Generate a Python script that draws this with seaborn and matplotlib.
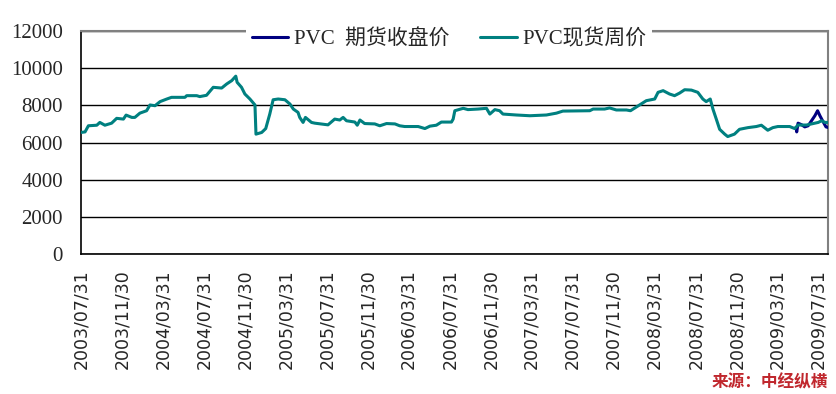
import pandas as pd
import seaborn as sns
import matplotlib
matplotlib.use('Agg')
from matplotlib import pyplot as plt
import matplotlib.dates as mdates

# PVC 现货周价
spot_dates = ['2003-07-31', '2003-08-12', '2003-08-22', '2003-09-16', '2003-09-25', '2003-10-10',
              '2003-10-30', '2003-11-14', '2003-12-04', '2003-12-12', '2003-12-29', '2004-01-07',
              '2004-01-22', '2004-02-11', '2004-02-21', '2004-03-07', '2004-03-22', '2004-04-11',
              '2004-04-25', '2004-06-04', '2004-06-09', '2004-07-09', '2004-07-18', '2004-08-07',
              '2004-08-27', '2004-09-21', '2004-10-06', '2004-10-21', '2004-11-02', '2004-11-06',
              '2004-11-19', '2004-11-29', '2004-12-14', '2004-12-29', '2005-01-01', '2005-01-18',
              '2005-01-30', '2005-02-11', '2005-02-21', '2005-03-08', '2005-03-28', '2005-04-12',
              '2005-04-22', '2005-05-06', '2005-05-11', '2005-05-21', '2005-05-28', '2005-06-15',
              '2005-06-25', '2005-08-03', '2005-08-23', '2005-09-07', '2005-09-17', '2005-09-27',
              '2005-10-22', '2005-10-29', '2005-11-06', '2005-11-20', '2005-12-20', '2006-01-04',
              '2006-01-24', '2006-02-18', '2006-03-04', '2006-03-19', '2006-04-28', '2006-05-18',
              '2006-06-02', '2006-06-21', '2006-07-06', '2006-08-05', '2006-08-10', '2006-08-15',
              '2006-09-09', '2006-09-23', '2006-10-23', '2006-11-17', '2006-11-27', '2006-12-12',
              '2006-12-26', '2007-01-05', '2007-02-14', '2007-03-26', '2007-05-14', '2007-06-13',
              '2007-07-02', '2007-09-20', '2007-09-30', '2007-11-03', '2007-11-18', '2007-12-08',
              '2008-01-07', '2008-01-19', '2008-02-15', '2008-03-06', '2008-03-31', '2008-04-10',
              '2008-04-25', '2008-05-14', '2008-05-29', '2008-06-13', '2008-06-28', '2008-07-18',
              '2008-08-06', '2008-08-21', '2008-08-31', '2008-09-12', '2008-09-20', '2008-09-30',
              '2008-10-10', '2008-10-25', '2008-11-03', '2008-11-23', '2008-12-08', '2009-01-02',
              '2009-01-27', '2009-02-11', '2009-03-02', '2009-03-17', '2009-04-01', '2009-05-06',
              '2009-05-21', '2009-05-31', '2009-06-25', '2009-07-30', '2009-08-09', '2009-08-19',
              '2009-08-28']
spot_price = [6540, 6570, 6900, 6930, 7080, 6930,
              7040, 7300, 7260, 7475, 7350, 7350,
              7580, 7710, 8020, 7980, 8200, 8340,
              8430, 8430, 8520, 8520, 8470, 8540,
              8970, 8930, 9150, 9330, 9570, 9240,
              8970, 8610, 8340, 8020, 6450, 6540,
              6750, 7530, 8300, 8340, 8300, 8070,
              7800, 7620, 7350, 7080, 7350, 7080,
              7040, 6950, 7260, 7210, 7350, 7170,
              7100, 6930, 7210, 7020, 7000, 6900,
              7020, 7000, 6900, 6860, 6860, 6750,
              6880, 6930, 7100, 7100, 7260, 7710,
              7840, 7770, 7800, 7840, 7530, 7770,
              7710, 7530, 7480, 7440, 7480, 7580,
              7690, 7710, 7800, 7800, 7860, 7750,
              7750, 7710, 8020, 8250, 8340, 8700,
              8790, 8610, 8520, 8660, 8840, 8820,
              8700, 8340, 8200, 8340, 7800, 7260,
              6710, 6450, 6320, 6450, 6710, 6800,
              6860, 6930, 6660, 6800, 6860, 6860,
              6750, 6940, 6940, 7080, 7170, 7080,
              7080]

# PVC 期货收盘价
fut_dates = ['2009-05-25', '2009-05-27', '2009-05-31', '2009-06-10', '2009-06-20', '2009-06-30',
             '2009-07-10', '2009-07-20', '2009-07-28', '2009-08-04', '2009-08-14', '2009-08-22',
             '2009-08-28']
fut_price = [6810, 6570, 7040, 6960, 6840, 6900,
             7170, 7440, 7710, 7440, 7100, 6840,
             6810]

fut_name = 'PVC  期货收盘价'
spot_name = 'PVC现货周价'
tick_dates = ['2003-07-31', '2003-11-30', '2004-03-31', '2004-07-31', '2004-11-30',
              '2005-03-31', '2005-07-31', '2005-11-30', '2006-03-31', '2006-07-31',
              '2006-11-30', '2007-03-31', '2007-07-31', '2007-11-30', '2008-03-31',
              '2008-07-31', '2008-11-30', '2009-03-31', '2009-07-31']
y_ticks = [0, 2000, 4000, 6000, 8000, 10000, 12000]
source = '来源：中经纵横'

df = pd.concat([
    pd.DataFrame({'date': pd.to_datetime(fut_dates), 'price': fut_price, 'series': fut_name}),
    pd.DataFrame({'date': pd.to_datetime(spot_dates), 'price': spot_price, 'series': spot_name}),
], ignore_index=True)

sns.set_style('white')
plt.rcParams['font.family'] = ['Liberation Serif', 'Noto Sans CJK SC', 'DejaVu Sans']

fig = plt.figure(figsize=(8.37, 3.94), dpi=100)
ax = fig.add_axes([81 / 837, 1 - 254 / 394, 747 / 837, 223 / 394])

sns.lineplot(data=df, x='date', y='price', hue='series', hue_order=[fut_name, spot_name],
             palette={fut_name: '#000080', spot_name: '#008080'}, linewidth=2.2, ax=ax, zorder=3)

ax.set_ylim(0, 12000)
ax.set_yticks(y_ticks)
ax.set_xlim(pd.Timestamp(spot_dates[0]), pd.Timestamp(spot_dates[-1]))
ticks = pd.to_datetime(tick_dates)
ax.set_xticks(ticks)
ax.set_xticklabels([t.strftime('%Y/%m/%d') for t in ticks], rotation=90,
                   family='DejaVu Sans', fontsize=12.5)
ax.set_xlabel('')
ax.set_ylabel('')
ax.grid(axis='y', color='black', linewidth=1, zorder=0)
ax.set_axisbelow(True)

ax.tick_params(axis='y', length=0, pad=13, labelsize=15)
ax.tick_params(axis='x', direction='in', length=4, width=1, color='black', pad=11)

for side in ['left', 'bottom']:
    ax.spines[side].set_color('black')
    ax.spines[side].set_linewidth(1.2)
for side in ['top', 'right']:
    ax.spines[side].set_color('#808080')
    ax.spines[side].set_linewidth(1.5)

leg = ax.legend(loc='center', bbox_to_anchor=(0.4926, 0.965), ncol=2, frameon=True,
                fontsize=15, handlelength=1.75, handletextpad=0.25, columnspacing=1.5,
                borderpad=0.3)
leg.get_frame().set_facecolor('white')
leg.get_frame().set_edgecolor('white')
leg.get_frame().set_alpha(1)
leg.get_frame().set_linewidth(0)
leg.set_zorder(5)

fig.text(0.989, 0.03, source, ha='right', va='center', color='#C0272D', fontsize=12,
         fontweight='bold', family=['Noto Sans CJK SC'])

fig.savefig('out.png', dpi=100)
